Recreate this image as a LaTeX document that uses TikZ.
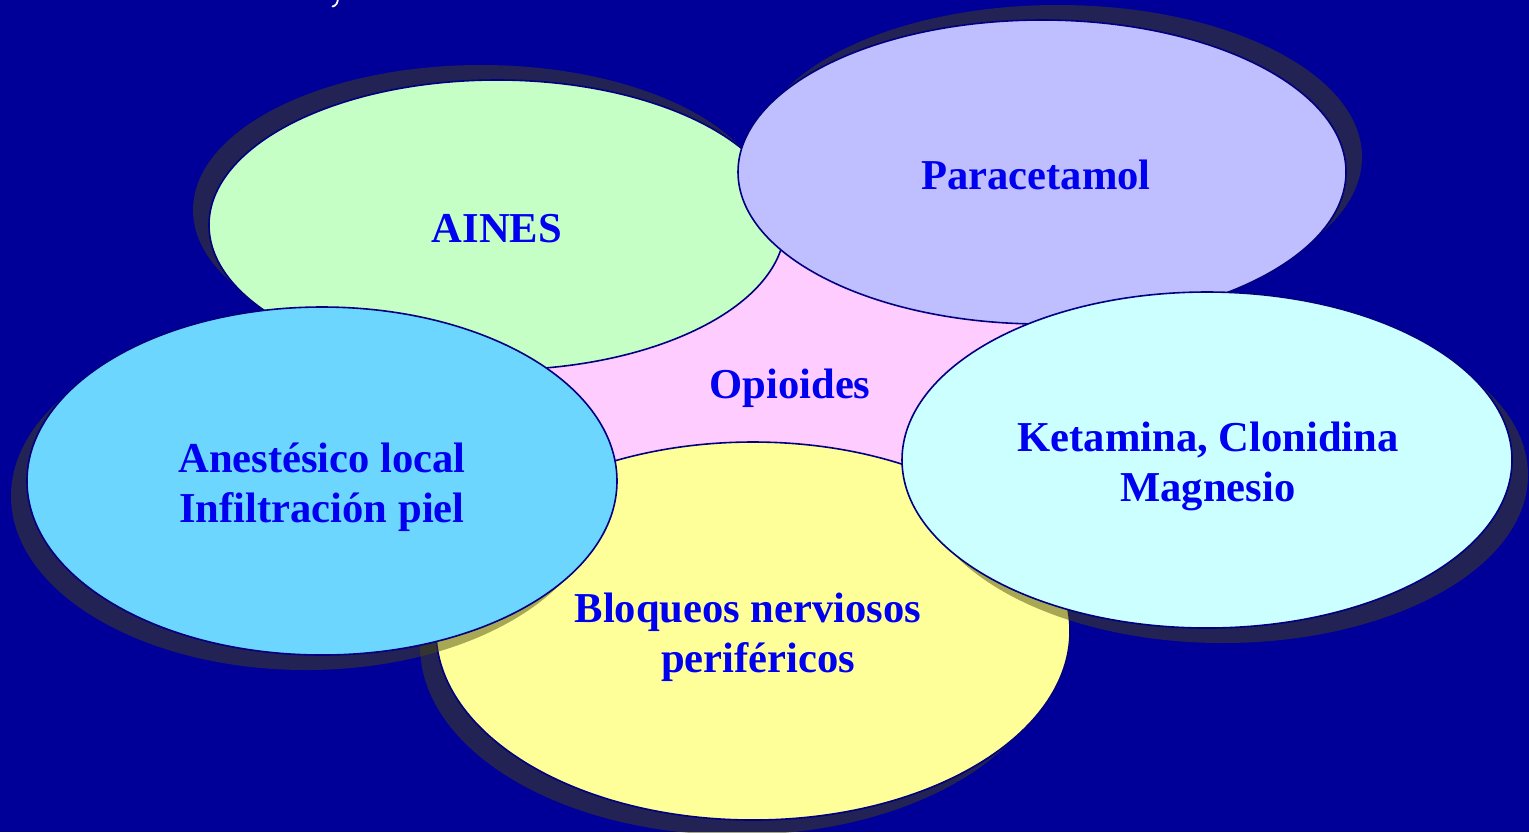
\documentclass[tikz,border=0pt]{standalone}
\usepackage{fontspec}
\setmainfont{Liberation Serif}
\usetikzlibrary{shapes.geometric,shadows}

\definecolor{bgnavy}{HTML}{000099}
\definecolor{edgenavy}{HTML}{000080}
\definecolor{labelblue}{HTML}{0000F0}
\definecolor{shadowolive}{RGB}{72,72,10}
\definecolor{ainesfill}{HTML}{C6FFC6}
\definecolor{paracfill}{HTML}{BFBFFF}
\definecolor{anestfill}{HTML}{6CD6FF}
\definecolor{bloqfill}{HTML}{FFFF99}
\definecolor{ketafill}{HTML}{CCFFFF}
\definecolor{opiofill}{HTML}{FFCCFF}

\tikzset{
  bubble/.style={ellipse, draw=edgenavy, line width=0.8pt, inner sep=0pt},
  castshadow/.style 2 args={drop shadow={shadow xshift=#1, shadow yshift=#2,
    fill=shadowolive, opacity=0.48}},
  bubbletext/.style={text=labelblue, align=center, inner sep=0pt,
    font=\fontsize{21.3}{25}\selectfont\bfseries}
}

\begin{document}
\begin{tikzpicture}[x=0.5pt, y=-0.5pt]
  % page and background
  \fill[bgnavy] (0,0) rectangle (1529,832);
  \useasboundingbox (0,0) rectangle (1529,832);

  % tail of a glyph of the title, cut by the top edge
  \draw[white, line width=0.9pt, line cap=round]
    (338,-1) .. controls (337.5,3) and (336,6) .. (332.5,6.5);

  % central region behind the petals
  \node[ellipse, fill=opiofill, minimum width=260pt, minimum height=130pt, inner sep=0pt]
    (core) at (790,380) {};
  \node[bubbletext, anchor=base] (opioides) at (790,398) {Opioides};

  % petals, back to front, each with its cast shadow
  \node[bubble, fill=ainesfill, minimum width=288pt, minimum height=145pt,
    castshadow={-8pt}{7.5pt}] (aines) at (497,225) {};
  \node[bubbletext] (ainestext) at (497,229) {AINES};

  \node[bubble, fill=bloqfill, minimum width=317pt, minimum height=189pt,
    castshadow={-8pt}{-7.5pt}] (bloq) at (753,631) {};
  \node[bubbletext] (bloqtext) at (753,637)
    {Bloqueos nerviosos\hspace*{5pt}\\\hspace*{5pt}periféricos};

  \node[bubble, fill=paracfill, minimum width=304pt, minimum height=152pt,
    castshadow={8pt}{7.5pt}] (parac) at (1042,172) {};
  \node[bubbletext] (paractext) at (1036,175) {Paracetamol};

  \node[bubble, fill=anestfill, minimum width=295pt, minimum height=174pt,
    castshadow={-8pt}{-7.5pt}] (anest) at (322,481) {};
  \node[bubbletext] (anesttext) at (322,487) {Anestésico local\\Infiltración piel};

  \node[bubble, fill=ketafill, minimum width=305pt, minimum height=168pt,
    castshadow={8pt}{-7.5pt}] (keta) at (1207,460) {};
  \node[bubbletext] (ketatext) at (1208,466) {Ketamina, Clonidina\\Magnesio};
\end{tikzpicture}
\end{document}
